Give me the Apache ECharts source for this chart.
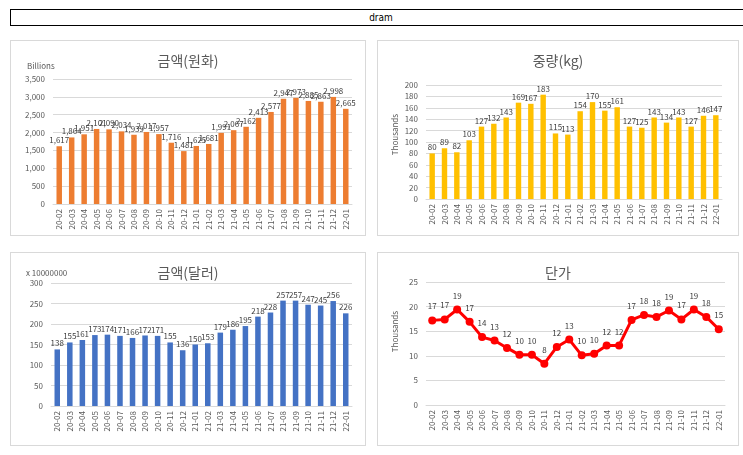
<!DOCTYPE html>
<html>
<head>
<meta charset="utf-8">
<script src="https://cdn.jsdelivr.net/npm/echarts@6/dist/echarts.min.js"></script>
<style>
  body { margin: 0; background: #fff; font-family: 'Noto Sans CJK KR', sans-serif; }
  .head {
    position: absolute; left: 10px; top: 9px; width: 740px; height: 15px;
    border: 1.5px solid #000; text-align: center; font-size: 10px; line-height: 15px;
    font-family: 'Liberation Sans Narrow', 'DejaVu Sans Condensed', sans-serif;
  }
  .panel { position: absolute; border: 1px solid #d9d9d9; background: #fff; box-sizing: border-box; }
</style>
</head>
<body>
<div class="head">dram</div>
<div id="krw" class="panel" style="left:10px;top:40px;width:356px;height:196px"></div>
<div id="kg" class="panel" style="left:377px;top:40px;width:362px;height:196px"></div>
<div id="usd" class="panel" style="left:10px;top:252px;width:356px;height:194px"></div>
<div id="price" class="panel" style="left:377px;top:252px;width:362px;height:194px"></div>
<script>
  const months = ['20-02', '20-03', '20-04', '20-05', '20-06', '20-07', '20-08', '20-09', '20-10', '20-11', '20-12', '21-01',
    '21-02', '21-03', '21-04', '21-05', '21-06', '21-07', '21-08', '21-09', '21-10', '21-11', '21-12', '22-01']
  const krwValues = [1617, 1864, 1951, 2101, 2090, 2034, 1939, 2017, 1957, 1716, 1481, 1625,
    1681, 1991, 2067, 2162, 2413, 2577, 2947, 2973, 2885, 2863, 2998, 2665]
  const kgValues = [80, 89, 82, 103, 127, 132, 143, 169, 167, 183, 115, 113,
    154, 170, 155, 161, 127, 125, 143, 134, 143, 127, 146, 147]
  const usdValues = [138, 155, 161, 173, 174, 171, 166, 172, 171, 155, 136, 150,
    153, 179, 186, 195, 218, 228, 257, 257, 247, 245, 256, 226]
  const priceValues = [17.2, 17.4, 19.4, 16.9, 13.8, 13.1, 11.6, 10.2, 10.2, 8.4, 11.8, 13.3,
    10.1, 10.4, 12.1, 12.1, 17.3, 18.3, 17.9, 19.2, 17.4, 19.4, 17.9, 15.4]

  const FONT = "'Noto Sans CJK KR', 'Noto Sans', sans-serif"
  const fmt = v => Math.round(v).toLocaleString('en-US')

  const makeOption = (cfg) => ({
    animation: false,
    textStyle: { fontFamily: FONT },
    title: {
      text: cfg.title, left: 'center', top: 8,
      textStyle: { fontFamily: FONT, fontSize: 14, fontWeight: 'normal', color: '#595959' }
    },
    graphic: cfg.graphic,
    grid: cfg.grid,
    xAxis: {
      type: 'category',
      data: months,
      axisTick: { show: false },
      axisLine: { lineStyle: { color: '#d9d9d9' } },
      axisLabel: { rotate: 90, fontSize: 8, color: '#595959', interval: 0, margin: 5, fontFamily: FONT }
    },
    yAxis: {
      type: 'value',
      min: 0, max: cfg.max, interval: cfg.interval,
      axisLine: { show: false },
      axisTick: { show: false },
      splitLine: { lineStyle: { color: '#d9d9d9' } },
      axisLabel: { fontSize: 8, color: '#595959', formatter: fmt, margin: 8, fontFamily: FONT }
    },
    series: [cfg.series]
  })

  const barLabel = {
    show: true, position: 'top', distance: 2, fontSize: 8, color: '#404040', fontFamily: FONT, formatter: p => fmt(p.value)
  }

  const sideTitle = (text, left, top, rotate) => ({
    type: 'text', left, top, rotation: rotate ? Math.PI / 2 : 0,
    style: { text, fontSize: 8, fill: '#595959', fontFamily: FONT }
  })

  const krwChart = echarts.init(document.getElementById('krw'))
  krwChart.setOption(makeOption({
    title: '금액(원화)',
    grid: { left: 42, right: 13, top: 38, bottom: 31 },
    max: 3500, interval: 500,
    graphic: [sideTitle('Billions', 16, 21)],
    series: { type: 'bar', data: krwValues, barWidth: '44%', itemStyle: { color: '#ED7D31' }, label: barLabel }
  }))

  const kgChart = echarts.init(document.getElementById('kg'))
  kgChart.setOption(makeOption({
    title: '중량(kg)',
    grid: { left: 48, right: 16, top: 44, bottom: 36 },
    max: 200, interval: 20,
    graphic: [sideTitle('Thousands', 13, 73, true)],
    series: { type: 'bar', data: kgValues, barWidth: '44%', itemStyle: { color: '#FFC000' }, label: barLabel }
  }))

  const usdChart = echarts.init(document.getElementById('usd'))
  usdChart.setOption(makeOption({
    title: '금액(달러)',
    grid: { left: 40, right: 13, top: 30, bottom: 39 },
    max: 300, interval: 50,
    graphic: [sideTitle('x 10000000', 15, 16)],
    series: { type: 'bar', data: usdValues, barWidth: '44%', itemStyle: { color: '#4472C4' }, label: barLabel }
  }))

  const priceChart = echarts.init(document.getElementById('price'))
  priceChart.setOption(makeOption({
    title: '단가',
    grid: { left: 48, right: 13, top: 29, bottom: 40 },
    max: 25, interval: 5,
    graphic: [sideTitle('Thousands', 13, 58, true)],
    series: {
      type: 'line', data: priceValues, symbol: 'circle', symbolSize: 8,
      lineStyle: { color: '#FF0000', width: 3 }, itemStyle: { color: '#FF0000' },
      label: { show: true, position: 'top', distance: 6, fontSize: 8, color: '#404040', fontFamily: FONT, formatter: p => fmt(p.value) }
    }
  }))
</script>
</body>
</html>
